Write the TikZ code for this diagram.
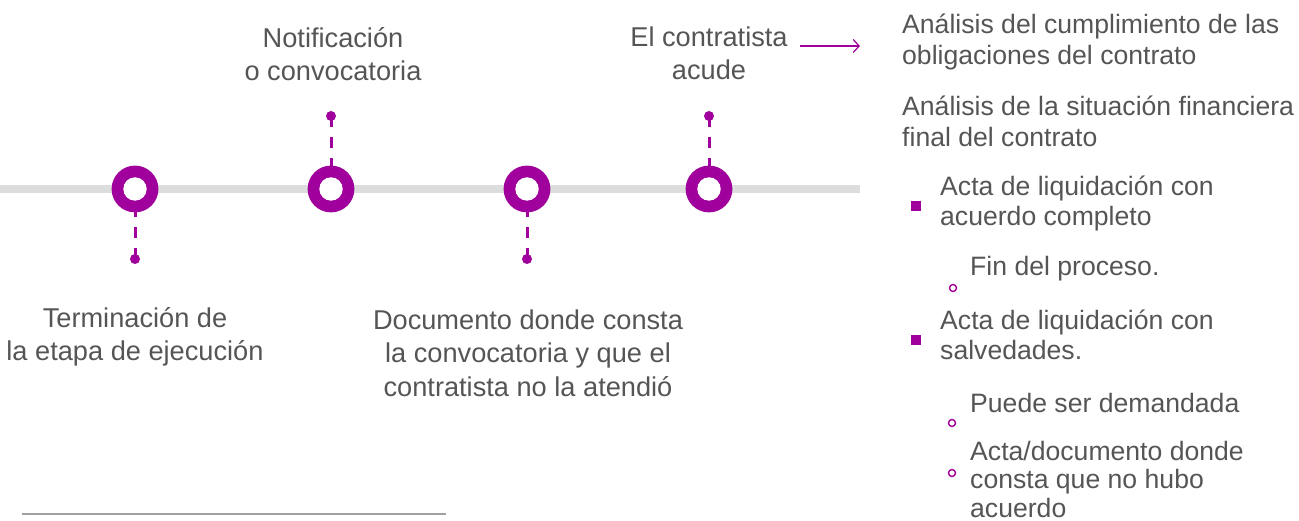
\documentclass[tikz,border=0pt]{standalone}
\usepackage{fontspec}
\setmainfont{Liberation Sans}
\usetikzlibrary{arrows.meta}
\definecolor{purp}{RGB}{160,0,155}
\definecolor{txtgray}{RGB}{85,85,85}
\definecolor{railgray}{RGB}{221,221,221}
\definecolor{rulegray}{RGB}{160,160,160}
\begin{document}
\begin{tikzpicture}[x=1pt,y=-1pt,
  ring/.style={circle,fill=purp,minimum size=46.8pt,inner sep=0pt},
  hole/.style={circle,fill=white,minimum size=23.4pt,inner sep=0pt},
  pin/.style={circle,fill=purp,minimum size=10pt,inner sep=0pt},
  pinline/.style={draw=purp,line width=3pt,dash pattern=on 11pt off 10pt},
  lblL/.style={font=\fontsize{27.2}{33}\selectfont,text=txtgray,align=center,inner sep=0pt},
  lblR/.style={font=\fontsize{26.6}{31}\selectfont,text=txtgray,align=left,inner sep=0pt,anchor=west},
  sqbullet/.style={rectangle,fill=purp,minimum size=10pt,inner sep=0pt},
  cbullet/.style={circle,draw=purp,line width=1.4pt,minimum size=7pt,inner sep=0pt}]
\useasboundingbox (0,0) rectangle (1299,521);
% rail
\coordinate (railL) at (0,189.3);
\coordinate (railR) at (860,189.3);
\draw[railgray,line width=8pt] (railL) -- (railR);
% pins
\node[pin] (p1) at (135,259) {};
\node[pin] (p2) at (331,116) {};
\node[pin] (p3) at (527,259) {};
\node[pin] (p4) at (709,116) {};
\coordinate (c1) at (135,189);
\coordinate (c2) at (331,189);
\coordinate (c3) at (527,189);
\coordinate (c4) at (709,189);
\draw[pinline] (p1.center) -- (c1);
\draw[pinline] (p2.center) -- (c2);
\draw[pinline] (p3.center) -- (c3);
\draw[pinline] (p4.center) -- (c4);
\node[ring] (r1) at (c1) {};
\node[ring] (r2) at (c2) {};
\node[ring] (r3) at (c3) {};
\node[ring] (r4) at (c4) {};
\node[hole] (h1) at (r1) {};
\node[hole] (h2) at (r2) {};
\node[hole] (h3) at (r3) {};
\node[hole] (h4) at (r4) {};
% timeline labels
\node[lblL] (notif) at (333,54) {Notificación\\o convocatoria};
\node[lblL] (contr) at (709,53) {El contratista\\acude};
\node[lblL] (term) at (135,336.5) {Terminación de\\la etapa de ejecución};
\node[lblL,font=\fontsize{27.2}{33.3}\selectfont] (doc) at (528,353) {Documento donde consta\\la convocatoria y que el\\contratista no la atendió};
% arrow
\coordinate (arS) at (800,46);
\coordinate (arE) at (860,46);
\draw[purp,line width=1.2pt,-{Straight Barb[length=6pt,width=13pt]}] (arS) -- (arE);
% right column
\node[lblR] (an1) at (902,42) {Análisis del cumplimiento de las\\obligaciones del contrato};
\node[lblR] (an2) at (902,121) {Análisis de la situación financiera\\final del contrato};
\node[sqbullet] (b1) at (916,206) {};
\node[lblR,font=\fontsize{26.6}{29.5}\selectfont] (act1) at (940,203.5) {Acta de liquidación con\\acuerdo completo};
\node[cbullet] (b2) at (953,288) {};
\node[lblR] (fin) at (970,269) {Fin del proceso.};
\node[sqbullet] (b3) at (916,340) {};
\node[lblR,font=\fontsize{26.6}{30}\selectfont] (act2) at (940,334.5) {Acta de liquidación con\\salvedades.};
\node[cbullet] (b4) at (952,423) {};
\node[lblR] (dem) at (970,402.5) {Puede ser demandada};
\node[cbullet] (b5) at (952,473) {};
\node[lblR,font=\fontsize{26.6}{28.3}\selectfont] (acu) at (970,479.3) {Acta/documento donde\\consta que no hubo\\acuerdo};
% bottom rule
\coordinate (ruleL) at (22,514);
\coordinate (ruleR) at (446,514);
\draw[rulegray,line width=2pt] (ruleL) -- (ruleR);
\end{tikzpicture}
\end{document}
